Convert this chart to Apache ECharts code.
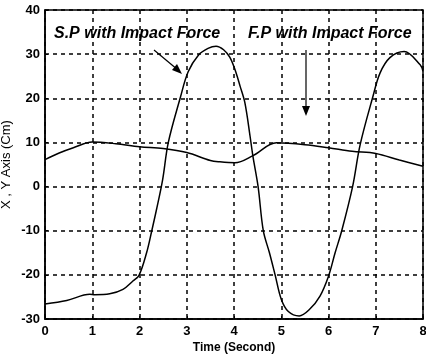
<!DOCTYPE html>
<html>
<head>
<meta charset="utf-8">
<script src="https://cdn.jsdelivr.net/npm/echarts@6/dist/echarts.min.js"></script>
<style>
  html, body { margin: 0; padding: 0; background: #fff; }
  #chart { width: 426px; height: 356px; }
</style>
</head>
<body>
<div id="chart"></div>
<script>
// S.P with impact force
const spTime = [0, 0.46, 0.95, 1.05, 1.37, 1.65, 1.86, 1.99, 2.15, 2.26, 2.36, 2.49, 2.61, 2.86, 3.03, 3.25, 3.45, 3.62, 3.78, 3.91, 4.02, 4.13, 4.23, 4.34, 4.4, 4.51, 4.62, 4.75, 4.87, 5.0, 5.15, 5.38, 5.6, 5.82, 6.0, 6.14, 6.28, 6.51, 6.67, 6.94, 7.09, 7.3, 7.6, 7.94, 8.0]
const spValue = [-26.6, -25.8, -24.4, -24.5, -24.3, -23.3, -21.4, -20.1, -15, -10, -5.2, 1.6, 10, 20, 26, 29.8, 31.3, 31.8, 31, 29.3, 26.5, 22.7, 19, 11.4, 6.9, 0, -10, -15, -20, -25.5, -28.3, -29.3, -27.8, -24.8, -20.3, -15, -10, 0, 9.5, 20.4, 25.7, 29.2, 30.6, 27.6, 26.1]
// F.P with impact force
const fpTime = [0, 0.3, 0.6, 1, 1.5, 2, 2.5, 3, 3.5, 3.7, 4.02, 4.4, 4.9, 5.5, 6, 6.5, 7, 7.5, 8]
const fpValue = [6.1, 7.6, 8.8, 10.1, 9.7, 9.0, 8.6, 7.7, 5.9, 5.6, 5.4, 7.0, 9.9, 9.5, 8.8, 8.0, 7.5, 6.0, 4.6]
const xTicks = [0, 1, 2, 3, 4, 5, 6, 7, 8]

const chart = echarts.init(document.getElementById('chart'))

const dashed = {
  show: true,
  lineStyle: { color: '#000', type: [4, 4], width: 1.5 }
}

const option = {
  animation: false,
  grid: {
    left: 45,
    right: 3,
    top: 10,
    bottom: 37,
    outerBoundsMode: 'none',
    containLabel: false,
    show: true,
    borderColor: '#000',
    borderWidth: 1.5
  },
  xAxis: {
    type: 'value',
    min: xTicks[0],
    max: xTicks[xTicks.length - 1],
    interval: 1,
    name: 'Time (Second)',
    nameLocation: 'middle',
    nameGap: 23,
    nameMoveOverlap: false,
    nameTextStyle: { color: '#000', fontSize: 12, fontWeight: 'bold', fontFamily: 'Liberation Sans' },
    axisLine: { onZero: false, lineStyle: { color: '#000', width: 1.5 } },
    axisTick: { inside: true, length: 3, lineStyle: { color: '#000' } },
    axisLabel: { color: '#000', fontSize: 13, fontWeight: 'bold', fontFamily: 'Liberation Sans', margin: 6 },
    splitLine: dashed
  },
  yAxis: {
    type: 'value',
    min: -30,
    max: 40,
    interval: 10,
    name: 'X , Y Axis (Cm)',
    nameLocation: 'middle',
    nameGap: 32,
    nameMoveOverlap: false,
    nameTextStyle: { color: '#000', fontSize: 13, fontFamily: 'Liberation Sans' },
    axisLine: { onZero: false, lineStyle: { color: '#000', width: 1.5 } },
    axisTick: { inside: true, length: 3, lineStyle: { color: '#000' } },
    axisLabel: { color: '#000', fontSize: 13, fontWeight: 'bold', fontFamily: 'Liberation Sans', margin: 5 },
    splitLine: dashed
  },
  series: [
    {
      name: 'S.P',
      type: 'line',
      smooth: 0.35,
      symbol: 'none',
      lineStyle: { color: '#000', width: 1.5 },
      data: spTime.map((t, i) => [t, spValue[i]])
    },
    {
      name: 'F.P',
      type: 'line',
      smooth: 0.35,
      symbol: 'none',
      lineStyle: { color: '#000', width: 1.5 },
      data: fpTime.map((t, i) => [t, fpValue[i]])
    }
  ],
  graphic: [
    {
      type: 'text', left: 54, top: 26,
      style: { text: 'S.P with Impact Force', fill: '#000', font: 'italic bold 16px "Liberation Sans"' }
    },
    {
      type: 'text', left: 248, top: 26,
      style: { text: 'F.P with Impact Force', fill: '#000', font: 'italic bold 16px "Liberation Sans"' }
    },
    {
      type: 'line',
      shape: { x1: 154, y1: 50, x2: 178, y2: 70 },
      style: { stroke: '#000', lineWidth: 1.2 }
    },
    {
      type: 'polygon',
      shape: { points: [[182, 74], [172, 70], [177, 64]] },
      style: { fill: '#000' }
    },
    {
      type: 'line',
      shape: { x1: 306, y1: 50, x2: 306, y2: 108 },
      style: { stroke: '#000', lineWidth: 1.2 }
    },
    {
      type: 'polygon',
      shape: { points: [[306, 116], [302, 106], [310, 106]] },
      style: { fill: '#000' }
    }
  ]
}

chart.setOption(option)
</script>
</body>
</html>
